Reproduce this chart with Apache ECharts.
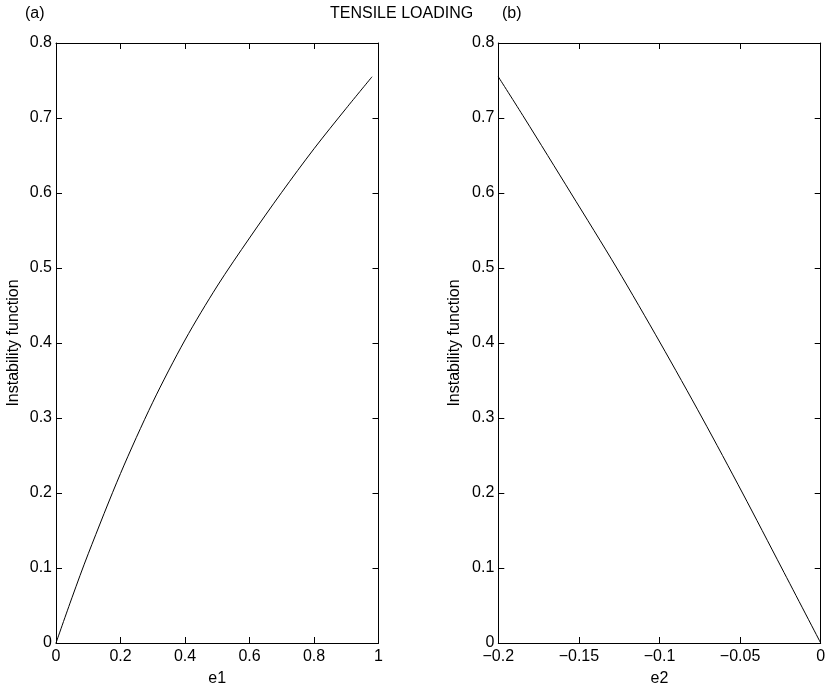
<!DOCTYPE html>
<html>
<head>
<meta charset="utf-8">
<script src="https://cdn.jsdelivr.net/npm/echarts@6/dist/echarts.min.js"></script>
<style>
  html, body { margin: 0; padding: 0; background: #fff; }
  #chart { width: 834px; height: 692px; }
</style>
</head>
<body>
<div id="chart"></div>
<script>
// Panel (a): instability function against e1
const e1Values = [0, 0.05, 0.1, 0.2, 0.3, 0.4, 0.5, 0.6, 0.7, 0.8, 0.9, 0.98];
const instabilityA = [0, 0.061, 0.119, 0.226, 0.321, 0.404, 0.476, 0.54, 0.601, 0.659, 0.713, 0.755];

// Panel (b): instability function against e2
const e2Values = [-0.2, -0.1838, -0.155, -0.1265, -0.0995, -0.0735, -0.0485, -0.0242, 0];
const instabilityB = [0.755, 0.7, 0.6, 0.5, 0.4, 0.3, 0.2, 0.1, 0];

const titleText = 'TENSILE LOADING';
const panelLabels = ['(a)', '(b)'];
const xNames = ['e1', 'e2'];
const yName = 'Instability function';

const FONT = 'Liberation Sans, Arial, Helvetica, sans-serif';
const FS = 16;

function fmt(v) {
  const r = Math.round(v * 1000) / 1000;
  if (r === 0) return '0';
  return (r < 0 ? '\u2212' : '') + String(Math.abs(r));
}

const grids = [
  { left: 56, top: 43, width: 322.5, height: 603 },
  { left: 498.3, top: 43, width: 322.4, height: 603 }
];

const lineStyle = { color: '#000', width: 1 };
const tickStyle = { show: true, inside: true, length: 6, lineStyle: { color: '#000', width: 1 } };
const labelStyle = { color: '#000', fontSize: FS, fontFamily: FONT };

const xRanges = [{ min: 0, max: 1, interval: 0.2 }, { min: -0.2, max: 0, interval: 0.05 }];

const xAxes = [];
const yAxes = [];
[0, 1].forEach(i => {
  xAxes.push({
    type: 'value', gridIndex: i, position: 'bottom',
    min: xRanges[i].min, max: xRanges[i].max, interval: xRanges[i].interval,
    name: xNames[i], nameLocation: 'middle', nameGap: 28,
    nameTextStyle: { color: '#000', fontSize: FS, fontFamily: FONT },
    axisLine: { show: true, onZero: false, lineStyle },
    axisTick: tickStyle,
    axisLabel: Object.assign({ margin: 6, formatter: fmt }, labelStyle),
    splitLine: { show: false }
  });
  xAxes.push({
    type: 'value', gridIndex: i, position: 'top',
    min: xRanges[i].min, max: xRanges[i].max, interval: xRanges[i].interval,
    axisLine: { show: true, onZero: false, lineStyle },
    axisTick: tickStyle,
    axisLabel: { show: false },
    splitLine: { show: false }
  });
  yAxes.push({
    type: 'value', gridIndex: i, position: 'left',
    min: 0, max: 0.8, interval: 0.1,
    name: yName, nameLocation: 'middle', nameGap: i === 0 ? 34 : 36, nameRotate: 90,
    nameTextStyle: { color: '#000', fontSize: FS, fontFamily: FONT },
    axisLine: { show: true, onZero: false, lineStyle },
    axisTick: tickStyle,
    axisLabel: Object.assign({ margin: 4, formatter: fmt }, labelStyle),
    splitLine: { show: false }
  });
  yAxes.push({
    type: 'value', gridIndex: i, position: 'right',
    min: 0, max: 0.8, interval: 0.1,
    axisLine: { show: true, onZero: false, lineStyle },
    axisTick: tickStyle,
    axisLabel: { show: false },
    splitLine: { show: false }
  });
});

const textStyle = { color: '#000', fontSize: FS, fontWeight: 'normal', fontFamily: FONT };

const chart = echarts.init(document.getElementById('chart'), null, { renderer: 'canvas' });
chart.setOption({
  animation: false,
  backgroundColor: '#fff',
  title: [
    { text: titleText, left: 330, top: 6, textStyle, padding: 0 },
    { text: panelLabels[0], left: 25, top: 6, textStyle, padding: 0 },
    { text: panelLabels[1], left: 502, top: 6, textStyle, padding: 0 }
  ],
  grid: grids,
  xAxis: xAxes,
  yAxis: yAxes,
  series: [
    {
      type: 'line', xAxisIndex: 0, yAxisIndex: 0,
      data: e1Values.map((x, k) => [x, instabilityA[k]]),
      showSymbol: false, smooth: 0.3, lineStyle: { color: '#000', width: 1 }
    },
    {
      type: 'line', xAxisIndex: 2, yAxisIndex: 2,
      data: e2Values.map((x, k) => [x, instabilityB[k]]),
      showSymbol: false, smooth: 0.3, lineStyle: { color: '#000', width: 1 }
    }
  ]
});
</script>
</body>
</html>
